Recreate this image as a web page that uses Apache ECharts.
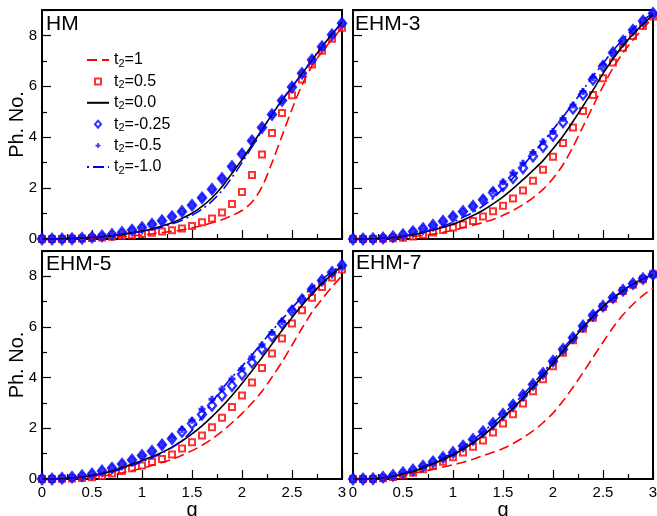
<!DOCTYPE html>
<html><head><meta charset="utf-8">
<script src="https://cdn.jsdelivr.net/npm/echarts@6/dist/echarts.min.js"></script>
<style>html,body{margin:0;padding:0;background:#fff}#c{width:657px;height:516px}</style>
</head><body><div id="c"></div>
<script>
// ---- data ----
const gVals = [0,0.1,0.2,0.3,0.4,0.5,0.6,0.7,0.8,0.9,1.0,1.1,1.2,1.3,1.4,1.5,1.6,1.7,1.8,1.9,2.0,2.1,2.2,2.3,2.4,2.5,2.6,2.7,2.8,2.9,3.0];
const seriesNames = ['t2=1','t2=0.5','t2=0.0','t2=-0.25','t2=-0.5','t2=-1.0'];
const panelTitles = ['HM','EHM-3','EHM-5','EHM-7'];
const xTicks = [0,0.5,1,1.5,2,2.5,3];
const yTicks = [0,2,4,6,8];

// HM
const hmDash  = [0,0,0.01,0.02,0.03,0.04,0.06,0.08,0.1,0.13, 0.16,0.2,0.25,0.3,0.36,0.44,0.53,0.64,0.76,0.92, 1.12,1.45,2.05,3.0,4.05,5.1,6.05,6.8,7.35,7.85, 8.3];
const hmSq    = [0,0,0,0.01,0.02,0.04,0.06,0.09,0.12,0.16, 0.2,0.25,0.29,0.34,0.41,0.51,0.66,0.81,1.04,1.38, 1.85,2.52,3.32,4.17,4.95,5.65,6.27,6.86,7.4,7.87, 8.3];
const hmBlack = [0,0,0.01,0.02,0.04,0.06,0.09,0.13,0.18,0.24, 0.31,0.39,0.51,0.64,0.81,1.01,1.28,1.62,2.05,2.58, 3.12,3.7,4.3,4.89,5.45,5.97,6.5,7.03,7.56,8.05, 8.52];
const hmDia   = [0,0,0,0.01,0.03,0.07,0.12,0.18,0.26,0.35, 0.45,0.58,0.72,0.88,1.08,1.33,1.62,1.96,2.38,2.85, 3.34,3.86,4.38,4.89,5.44,5.97,6.51,7.04,7.56,8.03, 8.48];
const hmPlus  = [0,0,0,0.01,0.03,0.07,0.12,0.18,0.26,0.35, 0.45,0.58,0.72,0.88,1.08,1.33,1.62,1.96,2.38,2.85, 3.34,3.86,4.38,4.89,5.44,5.97,6.51,7.04,7.56,8.03, 8.48];
const hmDD    = [0,0,0.01,0.02,0.04,0.06,0.09,0.13,0.18,0.24, 0.3,0.37,0.47,0.59,0.74,0.93,1.17,1.49,1.9,2.42, 3.0,3.62,4.27,4.9,5.46,5.98,6.51,7.04,7.56,8.04, 8.49];
// EHM-3
const e3Dash  = [0,0,0.01,0.02,0.04,0.07,0.1,0.14,0.19,0.26, 0.34,0.44,0.54,0.65,0.77,0.93,1.12,1.35,1.62,1.95, 2.38,2.92,3.62,4.42,5.22,6.0,6.72,7.32,7.82,8.28, 8.7];
const e3Sq    = [0,0,0,0.01,0.03,0.05,0.1,0.17,0.26,0.35, 0.45,0.57,0.71,0.88,1.09,1.31,1.59,1.91,2.29,2.72, 3.23,3.77,4.38,5.03,5.66,6.32,6.94,7.52,7.98,8.37, 8.74];
const e3Black = [0,0,0.01,0.03,0.06,0.1,0.17,0.25,0.35,0.46, 0.58,0.74,0.92,1.13,1.38,1.66,1.98,2.33,2.7,3.08, 3.55,4.05,4.62,5.22,5.85,6.5,7.08,7.6,8.05,8.45, 8.82];
const e3Dia   = [0,0,0.01,0.04,0.09,0.17,0.29,0.41,0.54,0.7, 0.88,1.08,1.29,1.54,1.83,2.09,2.4,2.79,3.25,3.63, 4.06,4.59,5.13,5.68,6.27,6.79,7.32,7.78,8.21,8.57, 8.87];
const e3Plus  = [0,0,0.01,0.04,0.09,0.17,0.29,0.41,0.54,0.7, 0.88,1.08,1.29,1.56,1.9,2.25,2.6,2.98,3.4,3.82, 4.22,4.74,5.27,5.8,6.35,6.84,7.34,7.79,8.21,8.57, 8.87];
const e3DD    = [0,0,0.01,0.03,0.06,0.11,0.18,0.27,0.38,0.51, 0.66,0.85,1.05,1.3,1.6,1.98,2.4,2.88,3.35,3.82, 4.3,4.8,5.32,5.86,6.4,6.9,7.4,7.85,8.25,8.6, 8.88];
// EHM-5
const e5Dash  = [0,0,0.01,0.02,0.04,0.08,0.12,0.18,0.25,0.33, 0.42,0.53,0.65,0.78,0.94,1.12,1.33,1.58,1.88,2.22, 2.58,3.0,3.46,4.02,4.62,5.28,5.95,6.58,7.1,7.58, 8.02];
const e5Sq    = [0,0,0.01,0.02,0.04,0.07,0.12,0.22,0.32,0.42, 0.53,0.67,0.79,0.97,1.2,1.45,1.72,2.04,2.42,2.84, 3.3,3.81,4.38,4.95,5.55,6.14,6.66,7.15,7.58,7.95, 8.27];
const e5Black = [0,0,0.01,0.04,0.08,0.14,0.22,0.32,0.45,0.58, 0.73,0.88,1.05,1.26,1.5,1.78,2.1,2.46,2.86,3.3, 3.77,4.27,4.8,5.33,5.86,6.37,6.86,7.3,7.72,8.08, 8.4];
const e5Dia   = [0,0,0.03,0.07,0.13,0.2,0.32,0.43,0.59,0.75, 0.93,1.1,1.35,1.59,1.87,2.19,2.55,2.9,3.3,3.68, 4.13,4.6,5.13,5.64,6.14,6.64,7.08,7.49,7.84,8.16, 8.44];
const e5Plus  = [0,0,0.03,0.07,0.13,0.2,0.32,0.43,0.59,0.75, 0.93,1.1,1.35,1.62,1.95,2.32,2.75,3.15,3.55,3.95, 4.35,4.82,5.3,5.78,6.22,6.68,7.1,7.5,7.85,8.16, 8.44];
const e5DD    = [0,0,0.01,0.03,0.07,0.12,0.19,0.28,0.4,0.53, 0.68,0.84,1.02,1.24,1.52,1.92,2.45,3.02,3.55,4.02, 4.45,4.9,5.38,5.85,6.3,6.75,7.18,7.55,7.88,8.18, 8.45];
// EHM-7
const e7Dash  = [0,0,0.02,0.05,0.1,0.15,0.22,0.3,0.38,0.47, 0.56,0.66,0.78,0.92,1.06,1.2,1.4,1.63,1.9,2.22, 2.6,3.08,3.62,4.2,4.8,5.4,5.98,6.48,6.9,7.25, 7.55];
const e7Sq    = [0,0,0,0.03,0.08,0.15,0.25,0.38,0.52,0.68, 0.86,1.05,1.27,1.52,1.84,2.19,2.56,2.98,3.46,3.94, 4.45,4.98,5.48,5.93,6.37,6.79,7.12,7.42,7.67,7.88, 8.08];
const e7Black = [0,0,0.01,0.05,0.11,0.2,0.3,0.44,0.6,0.77, 0.96,1.18,1.43,1.72,2.05,2.42,2.8,3.2,3.63,4.08, 4.56,5.04,5.52,5.98,6.41,6.8,7.14,7.43,7.69,7.9, 8.07];
const e7Dia   = [0,0,0.01,0.07,0.14,0.25,0.36,0.51,0.68,0.85, 1.05,1.3,1.56,1.87,2.19,2.56,2.92,3.31,3.73,4.17, 4.65,5.12,5.58,6.04,6.46,6.82,7.16,7.45,7.71,7.91, 8.08];
const e7Plus  = [0,0,0.01,0.07,0.14,0.25,0.36,0.51,0.68,0.85, 1.05,1.3,1.56,1.87,2.19,2.56,2.92,3.31,3.73,4.17, 4.65,5.12,5.58,6.04,6.46,6.82,7.16,7.45,7.71,7.91, 8.08];
const e7DD    = [0,0,0.01,0.06,0.13,0.23,0.35,0.5,0.66,0.84, 1.03,1.27,1.54,1.85,2.2,2.56,2.93,3.33,3.76,4.2, 4.68,5.15,5.6,6.05,6.47,6.83,7.16,7.45,7.7,7.9, 8.08];

const panelData = [
  [hmDash, hmSq, hmBlack, hmDia, hmPlus, hmDD],
  [e3Dash, e3Sq, e3Black, e3Dia, e3Plus, e3DD],
  [e5Dash, e5Sq, e5Black, e5Dia, e5Plus, e5DD],
  [e7Dash, e7Sq, e7Black, e7Dia, e7Plus, e7DD]
];

// ---- layout / style ----
const FONT = 'Liberation Sans, Arial, Helvetica, sans-serif';
const RED = '#ff0000', BLUE = '#0000ff';
const PLUS = 'path://M2,0H5V2H7V5H5V7H2V5H0V2H2Z';
// legend icons: invisible moveTo corners fix the 22x7 box so the marker keeps its shape
const ICON_SQ = 'path://M0,0M22,7M8,0.5H14V6.5H8Z';
const ICON_DIA = 'path://M0,0M22,7M11,0L14,3.5L11,7L8,3.5Z';
const ICON_PLUS = 'path://M0,0M22,7M10.2,1H11.8V2.7H13.5V4.3H11.8V6H10.2V4.3H8.5V2.7H10.2Z';
const gridPos = [
  {left: 42, top: 10, width: 300, height: 229},
  {left: 353, top: 10, width: 300, height: 229},
  {left: 42, top: 251, width: 300, height: 228},
  {left: 353, top: 251, width: 300, height: 228}
];
const titlePos = [[46, 14], [355, 14], [46, 254], [356, 253]];

const zip = arr => gVals.map((g, i) => [g, arr[i]]);

const grids = [], xAxes = [], yAxes = [], series = [], titles = [];
for (let p = 0; p < 4; p++) {
  const bottom = p >= 2, left = p % 2 === 0;
  grids.push(Object.assign({show: true, borderColor: '#000', borderWidth: 2, backgroundColor: 'transparent', containLabel: false, outerBoundsMode: 'none'}, gridPos[p]));
  xAxes.push({
    type: 'value', gridIndex: p, min: xTicks[0], max: xTicks[xTicks.length - 1], interval: 0.5,
    axisLine: {show: true, onZero: false, lineStyle: {color: '#000', width: 2}},
    axisTick: {show: true, inside: true, length: 9, lineStyle: {color: '#000', width: 1.2}},
    minorTick: {show: true, splitNumber: 2, length: 5, lineStyle: {color: '#000', width: 1.2}},
    splitLine: {show: false}, minorSplitLine: {show: false},
    axisLabel: {show: bottom, color: '#000', fontSize: 15, fontFamily: FONT, margin: 6, hideOverlap: false},
    name: bottom ? 'g' : '', nameLocation: 'middle', nameGap: 17,
    nameTextStyle: {fontSize: 20, fontFamily: FONT, color: '#000'}
  });
  yAxes.push({
    type: 'value', gridIndex: p, min: 0, max: 9, interval: 2,
    axisLine: {show: true, onZero: false, lineStyle: {color: '#000', width: 2}},
    axisTick: {show: true, inside: true, length: 9, lineStyle: {color: '#000', width: 1.2}},
    minorTick: {show: true, splitNumber: 2, length: 5, lineStyle: {color: '#000', width: 1.2}},
    splitLine: {show: false}, minorSplitLine: {show: false},
    axisLabel: {show: left, color: '#000', fontSize: 15, fontFamily: FONT, margin: 5, showMaxLabel: false,
      formatter: v => (yTicks.indexOf(v) >= 0 ? String(v) : '')},
    name: left ? 'Ph. No.' : '', nameLocation: 'middle', nameGap: 15, nameRotate: 90, nameMoveOverlap: false,
    nameTextStyle: {fontSize: 20, fontFamily: FONT, color: '#000', padding: [0, 0, 0, 0]}
  });
  titles.push({text: panelTitles[p], left: titlePos[p][0], top: titlePos[p][1], padding: 0,
    textStyle: {fontSize: 21, fontWeight: 'normal', fontFamily: FONT, color: '#000'}});

  const d = panelData[p];
  const common = {xAxisIndex: p, yAxisIndex: p, animation: false};
  series.push(Object.assign({type: 'line', name: seriesNames[0], data: zip(d[0]), smooth: 0.3, symbol: 'none', showSymbol: false,
    lineStyle: {color: RED, width: 1.6, type: [10, 5]}, itemStyle: {color: RED, opacity: 0}}, common));
  series.push(Object.assign({type: 'line', name: seriesNames[2], data: zip(d[2]), smooth: 0.3, symbol: 'none', showSymbol: false,
    lineStyle: {color: '#000', width: 1.6}, itemStyle: {color: '#000', opacity: 0}}, common));
  series.push(Object.assign({type: 'scatter', name: seriesNames[1], data: zip(d[1]), symbol: 'rect', symbolSize: 6,
    itemStyle: {color: '#fff', borderColor: RED, borderWidth: 2}}, common));
  series.push(Object.assign({type: 'line', name: seriesNames[5], data: zip(d[5]), smooth: 0.3, symbol: 'none', showSymbol: false,
    lineStyle: {color: BLUE, width: 1.6, type: [2, 4, 11, 4]}, itemStyle: {color: BLUE, opacity: 0}}, common));
  series.push(Object.assign({type: 'scatter', name: seriesNames[3], data: zip(d[3]), symbol: 'diamond', symbolSize: [8, 10],
    itemStyle: {color: '#fff', borderColor: BLUE, borderWidth: 2.4}}, common));
  series.push(Object.assign({type: 'scatter', name: seriesNames[4], data: zip(d[4]), symbol: PLUS, symbolSize: 7,
    itemStyle: {color: BLUE}}, common));
}

const chart = echarts.init(document.getElementById('c'), null, {renderer: 'canvas'});
chart.setOption({
  backgroundColor: '#fff',
  animation: false,
  title: titles,
  grid: grids, xAxis: xAxes, yAxis: yAxes, series: series,
  legend: {
    data: [
      {name: seriesNames[0]},
      {name: seriesNames[1], icon: ICON_SQ},
      {name: seriesNames[2]},
      {name: seriesNames[3], icon: ICON_DIA},
      {name: seriesNames[4], icon: ICON_PLUS},
      {name: seriesNames[5]}
    ],
    orient: 'vertical', left: 81, top: 47,
    itemWidth: 22, itemHeight: 7, itemGap: 4.4, selectedMode: false,
    formatter: name => '{n|t}{s|2}{n|' + name.slice(2) + '}',
    textStyle: {color: '#000', fontFamily: FONT, fontSize: 16,
      rich: {n: {fontSize: 16, lineHeight: 18, fontFamily: FONT, color: '#000'},
             s: {fontSize: 11, lineHeight: 11, verticalAlign: 'bottom', fontFamily: FONT, color: '#000'}}}
  }
});
</script></body></html>
